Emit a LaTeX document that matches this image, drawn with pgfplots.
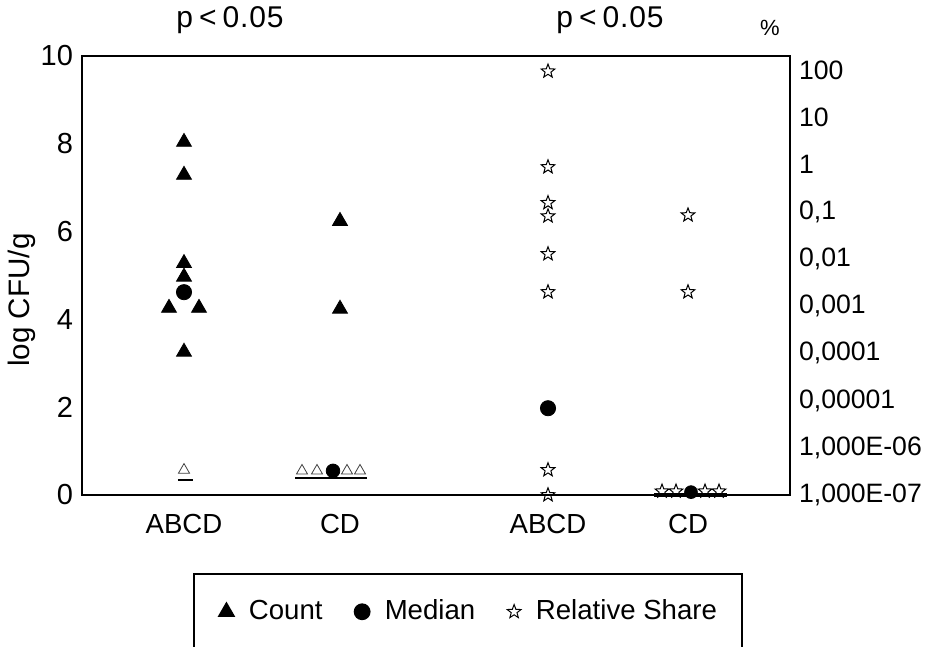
\documentclass[border=0pt]{standalone}
\usepackage{fontspec}
\setmainfont{Liberation Sans}
\usepackage{pgfplots}
\pgfplotsset{compat=1.18}

% open five-pointed star for the relative share
\pgfdeclareplotmark{ostar}{%
  \pgfpathmoveto{\pgfpointpolar{90}{\pgfplotmarksize}}%
  \pgfpathlineto{\pgfpointpolar{126}{0.42\pgfplotmarksize}}%
  \pgfpathlineto{\pgfpointpolar{162}{\pgfplotmarksize}}%
  \pgfpathlineto{\pgfpointpolar{198}{0.42\pgfplotmarksize}}%
  \pgfpathlineto{\pgfpointpolar{234}{\pgfplotmarksize}}%
  \pgfpathlineto{\pgfpointpolar{270}{0.42\pgfplotmarksize}}%
  \pgfpathlineto{\pgfpointpolar{306}{\pgfplotmarksize}}%
  \pgfpathlineto{\pgfpointpolar{342}{0.42\pgfplotmarksize}}%
  \pgfpathlineto{\pgfpointpolar{18}{\pgfplotmarksize}}%
  \pgfpathlineto{\pgfpointpolar{54}{0.42\pgfplotmarksize}}%
  \pgfpathclose
  \pgfusepathqstroke
}

\pgfplotsset{
  base/.style={
    scale only axis, width=354pt, height=219.5pt,
    xmin=0, xmax=7.08, clip=false,
    major tick length=0pt, minor tick length=0pt,
    axis line style={line width=0.8pt},
    /pgf/number format/assume math mode=true,
  },
  cnt/.style={only marks, mark=triangle*, mark size=4.3pt, black},
  med/.style={only marks, mark=*, mark size=3.8pt, black},
  rel/.style={only marks, mark=ostar, mark size=3.6pt, black, line width=0.5pt},
}
\newcommand\ptitle{{\addfontfeature{LetterSpace=3}p\hspace{0.2em}<\hspace{0.2em}0.05}}

\begin{document}
\fontsize{13}{15.6}\selectfont
\begin{tikzpicture}
\begin{axis}[base, name=main,
    ymin=0, ymax=10, ytick={0,2,4,6,8,10},
    yticklabel style={font=\fontsize{14.5}{17}\selectfont},
    xtick={1.02,2.58,4.66,6.06}, xticklabels={ABCD,CD,ABCD,CD},
    xticklabel style={yshift=-5pt, font=\fontsize{13.8}{16}\selectfont},
]
% counts (log CFU/g)
\addplot[cnt, forget plot] coordinates {
  (1.02,8.04) (1.02,7.29) (1.02,5.28) (1.02,4.97)
  (0.87,4.26) (1.17,4.26) (1.02,3.26)
  (2.58,6.24) (2.58,4.24)};
% below detection limit
\addplot[only marks, mark=triangle, mark size=3.2pt, black!75, line width=0.4pt, forget plot]
  coordinates {(1.02,0.57) (2.20,0.55) (2.35,0.55) (2.65,0.55) (2.78,0.55)};
\addplot[black, line width=0.9pt, forget plot] coordinates {(0.96,0.34) (1.11,0.34)};
\addplot[black, line width=1.2pt, forget plot] coordinates {(2.13,0.39) (2.85,0.39)};
% medians
\addplot[med, forget plot] coordinates {(1.02,4.62)};
\addplot[med, mark size=3.4pt, forget plot] coordinates {(2.51,0.55)};

\node[anchor=base, yshift=14pt, font=\fontsize{15}{18}\selectfont] at (axis cs:1.48,10) {\ptitle};
\node[anchor=base, yshift=14pt, font=\fontsize{15}{18}\selectfont] at (axis cs:5.28,10) {\ptitle};
\node[anchor=base, yshift=10pt, font=\fontsize{11}{13}\selectfont] at (axis cs:6.88,10) {\%};
\node[rotate=90, anchor=center, font=\fontsize{14.8}{17}\selectfont] at ([xshift=-30pt]rel axis cs:0,0.444) {log CFU/g};
\end{axis}

\begin{axis}[base, ymode=log, ymin=1e-7, ymax=200,
    hide x axis, axis y line*=right,
    ytick={1e-7,1e-6,1e-5,1e-4,1e-3,1e-2,1e-1,1,10,100},
    yticklabels={{1,000E-07},{1,000E-06},{0,00001},{0,0001},{0,001},{0,01},{0,1},1,10,100},
    yticklabel style={font=\fontsize{13.3}{16}\selectfont},
    legend columns=3,
    legend style={at={(0.5452,-0.1777)}, anchor=north,
      draw=black, line width=0.8pt, inner xsep=12.5pt, inner ysep=13pt,
      font=\fontsize{13.8}{16}\selectfont,
      nodes={inner sep=0pt},
      /tikz/every odd column/.append style={column sep=7.5pt},
      /tikz/every even column/.append style={column sep=16pt}},
]
\addlegendimage{cnt}\addlegendentry{Count}
\addlegendimage{med}\addlegendentry{Median}
\addlegendimage{rel}\addlegendentry{Relative Share}
% relative share (%)
\addplot[rel, forget plot] coordinates {
  (4.66,95) (4.66,0.89) (4.66,0.155) (4.66,0.081) (4.66,0.0128)
  (4.66,0.002) (4.66,3.4e-7) (4.66,1e-7)
  (6.06,0.085) (6.06,0.002)
  (5.80,1.2e-7) (5.94,1.2e-7) (6.23,1.2e-7) (6.37,1.2e-7)};
\addplot[black, line width=1.6pt, forget plot] coordinates {(5.72,1e-7) (6.45,1e-7)};
\addplot[med, forget plot] coordinates {(4.66,6.9e-6)};
\addplot[med, mark size=3.2pt, forget plot] coordinates {(6.09,1.15e-7)};
\end{axis}
\pgfresetboundingbox
\path[use as bounding box] ([shift={(-41pt,-76pt)}]main.south west) rectangle ([shift={(70.5pt,28pt)}]main.north east);
\end{tikzpicture}
\end{document}
